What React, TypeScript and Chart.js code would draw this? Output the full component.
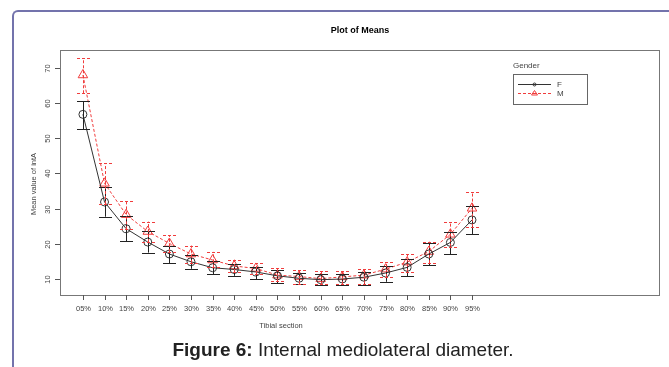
import React, { useEffect, useRef } from "react";
import { Chart, registerables } from "chart.js";

Chart.register(...registerables);

const categories = ["05%", "10%", "15%", "20%", "25%", "30%", "35%", "40%", "45%", "50%", "55%", "60%", "65%", "70%", "75%", "80%", "85%", "90%", "95%"];
const fMean = [56.8, 31.9, 24.3, 20.5, 17.1, 14.9, 13.2, 12.7, 12.0, 10.9, 10.2, 9.8, 10.0, 10.5, 11.7, 13.3, 17.1, 20.4, 26.8];
const fLow = [52.6, 27.7, 20.8, 17.5, 14.5, 12.9, 11.4, 10.9, 9.9, 8.8, 8.6, 8.3, 8.3, 8.4, 9.2, 10.8, 13.9, 17.1, 22.8];
const fHigh = [60.6, 36.2, 27.9, 23.7, 19.4, 16.8, 15.0, 14.2, 13.5, 12.6, 11.8, 11.3, 11.4, 12.0, 13.7, 15.6, 20.3, 23.5, 30.8];
const mMean = [68.0, 37.2, 28.3, 23.5, 20.1, 17.1, 15.4, 13.7, 13.0, 11.1, 10.7, 10.1, 10.6, 11.1, 12.8, 14.8, 17.8, 22.7, 30.1];
const mLow = [62.8, 31.3, 24.1, 20.5, 17.7, 14.6, 13.3, 12.0, 11.4, 9.3, 8.6, 8.5, 8.5, 8.7, 10.6, 12.1, 14.5, 19.2, 24.9];
const mHigh = [72.7, 42.9, 32.1, 26.3, 22.5, 19.5, 17.7, 15.5, 14.5, 13.0, 12.6, 12.4, 12.4, 12.8, 14.8, 17.1, 20.6, 26.1, 34.8];
const yTicks = [10, 20, 30, 40, 50, 60, 70];
const legendTitle = "Gender";
const seriesNames = ["F", "M"];

const F_COLOR = "#333333";
const M_COLOR = "#f03c3c";
const TEXT = "#444444";
const FONT = "'Liberation Sans', Arial, sans-serif";

const overlay = {
  id: "overlay",
  afterDatasetsDraw(chart: any) {
    const ctx = chart.ctx as CanvasRenderingContext2D;
    const xs = chart.scales.x;
    const ys = chart.scales.y;
    const area = chart.chartArea;
    ctx.save();

    // error bars
    const drawBars = (lo: number[], hi: number[], color: string, dash: number[]) => {
      ctx.strokeStyle = color;
      ctx.lineWidth = 1;
      ctx.setLineDash(dash);
      lo.forEach((l, i) => {
        const px = Math.round(xs.getPixelForValue(i + 1)) + 0.5;
        const y1 = ys.getPixelForValue(l);
        const y2 = ys.getPixelForValue(hi[i]);
        ctx.beginPath();
        ctx.moveTo(px, y1);
        ctx.lineTo(px, y2);
        ctx.moveTo(px - 6.5, Math.round(y1) + 0.5);
        ctx.lineTo(px + 6.5, Math.round(y1) + 0.5);
        ctx.moveTo(px - 6.5, Math.round(y2) + 0.5);
        ctx.lineTo(px + 6.5, Math.round(y2) + 0.5);
        ctx.stroke();
      });
    };
    drawBars(fLow, fHigh, "#222222", []);
    drawBars(mLow, mHigh, M_COLOR, [3, 2]);
    ctx.setLineDash([]);

    // box
    ctx.strokeStyle = "#777777";
    ctx.lineWidth = 1;
    ctx.strokeRect(Math.round(area.left) + 0.5, Math.round(area.top) + 0.5, Math.round(area.right - area.left), Math.round(area.bottom - area.top));

    // x ticks
    ctx.fillStyle = TEXT;
    ctx.font = `7.5px ${FONT}`;
    ctx.textAlign = "center";
    ctx.textBaseline = "middle";
    ctx.strokeStyle = "#555555";
    categories.forEach((c, i) => {
      const px = Math.round(xs.getPixelForValue(i + 1)) + 0.5;
      ctx.beginPath();
      ctx.moveTo(px, area.bottom);
      ctx.lineTo(px, area.bottom + 5);
      ctx.stroke();
      ctx.fillText(c, px, 309);
    });
    // y ticks (rotated labels)
    yTicks.forEach((t) => {
      const py = Math.round(ys.getPixelForValue(t)) + 0.5;
      ctx.beginPath();
      ctx.moveTo(area.left - 5, py);
      ctx.lineTo(area.left, py);
      ctx.stroke();
      ctx.save();
      ctx.translate(48, py);
      ctx.rotate(-Math.PI / 2);
      ctx.fillText(String(t), 0, 0);
      ctx.restore();
    });

    // axis titles
    ctx.fillText("Tibial section", 281, 326);
    ctx.save();
    ctx.translate(34, 184);
    ctx.rotate(-Math.PI / 2);
    ctx.fillText("Mean value of intA", 0, 0);
    ctx.restore();

    // title
    ctx.fillStyle = "#000000";
    ctx.font = `bold 9px ${FONT}`;
    ctx.fillText("Plot of Means", 360, 31);

    // legend
    ctx.fillStyle = TEXT;
    ctx.font = `8px ${FONT}`;
    ctx.textAlign = "left";
    ctx.fillText(legendTitle, 513, 66);
    ctx.strokeStyle = "#666666";
    ctx.strokeRect(513.5, 74.5, 74, 30);
    const rows = [
      { y: 84.5, color: F_COLOR, dash: [] as number[], tri: false },
      { y: 93.5, color: M_COLOR, dash: [3, 2], tri: true },
    ];
    rows.forEach((r, k) => {
      ctx.strokeStyle = r.color;
      ctx.setLineDash(r.dash);
      ctx.beginPath();
      ctx.moveTo(518, r.y);
      ctx.lineTo(551, r.y);
      ctx.stroke();
      ctx.setLineDash([]);
      ctx.beginPath();
      if (r.tri) {
        ctx.moveTo(534.5, r.y - 3);
        ctx.lineTo(537.5, r.y + 1.5);
        ctx.lineTo(531.5, r.y + 1.5);
        ctx.closePath();
      } else {
        ctx.arc(534.5, r.y, 1.5, 0, Math.PI * 2);
      }
      ctx.stroke();
      ctx.fillStyle = TEXT;
      ctx.fillText(seriesNames[k], 557, r.y);
    });

    // caption
    ctx.fillStyle = "#222222";
    ctx.textBaseline = "alphabetic";
    ctx.font = `bold 19px ${FONT}`;
    const a = "Figure 6:";
    const b = " Internal mediolateral diameter.";
    const wa = ctx.measureText(a).width;
    ctx.font = `19px ${FONT}`;
    const wb = ctx.measureText(b).width;
    const x0 = 343 - (wa + wb) / 2;
    ctx.font = `bold 19px ${FONT}`;
    ctx.fillText(a, x0, 356);
    ctx.font = `19px ${FONT}`;
    ctx.fillText(b, x0 + wa, 356);

    ctx.restore();
  },
};

export default function App() {
  const ref = useRef<HTMLCanvasElement | null>(null);
  useEffect(() => {
    if (!ref.current) return;
    const chart = new Chart(ref.current, {
      type: "line",
      data: {
        datasets: [
          {
            label: seriesNames[0],
            data: fMean.map((v, i) => ({ x: i + 1, y: v })),
            borderColor: F_COLOR,
            borderWidth: 1,
            pointStyle: "circle",
            pointRadius: 4,
            pointBorderColor: F_COLOR,
            pointBackgroundColor: "rgba(0,0,0,0)",
            pointBorderWidth: 1,
            tension: 0,
          },
          {
            label: seriesNames[1],
            data: mMean.map((v, i) => ({ x: i + 1, y: v })),
            borderColor: M_COLOR,
            borderWidth: 1,
            borderDash: [3, 2],
            pointStyle: "triangle",
            pointRadius: 5.5,
            pointBorderColor: M_COLOR,
            pointBackgroundColor: "rgba(0,0,0,0)",
            pointBorderWidth: 1,
            tension: 0,
          },
        ],
      },
      options: {
        animation: false,
        responsive: false,
        layout: { padding: { left: 60, top: 50, right: 10, bottom: 72 } },
        plugins: { legend: { display: false }, tooltip: { enabled: false }, title: { display: false } },
        scales: {
          x: { type: "linear", display: false, min: -0.06, max: 27.65 },
          y: { type: "linear", display: false, min: 5.45, max: 75.1 },
        },
      },
      plugins: [overlay],
    });
    return () => chart.destroy();
  }, []);

  return (
    <div style={{ position: "fixed", left: 0, top: 0, width: 669, height: 367, background: "#fff", overflow: "hidden" }}>
      <div
        style={{
          position: "absolute",
          left: 12,
          top: 10,
          width: 700,
          height: 400,
          borderLeft: "2px solid #7373ac",
          borderTop: "2px solid #7373ac",
          borderTopLeftRadius: 6,
        }}
      />
      <canvas ref={ref} width={669} height={367} style={{ position: "absolute", left: 0, top: 0 }} />
    </div>
  );
}
